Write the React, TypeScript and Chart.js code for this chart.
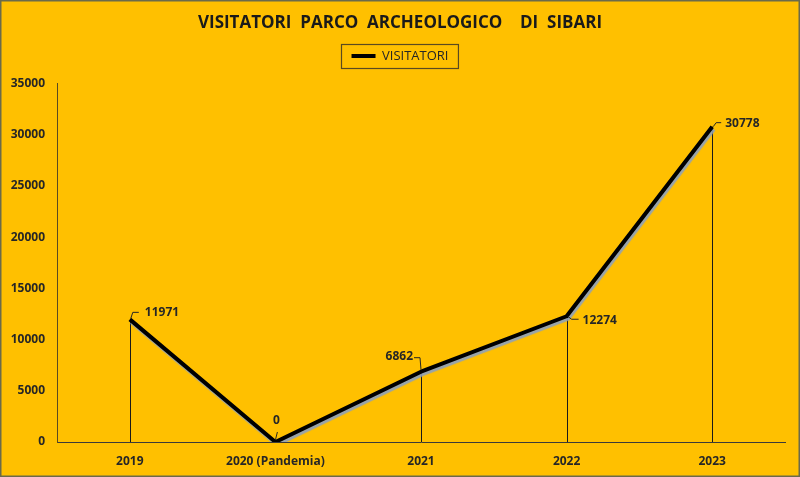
import React, { useEffect, useRef } from "react";
import { Chart, registerables } from "chart.js";

Chart.register(...registerables);

const categories = ["2019", "2020 (Pandemia)", "2021", "2022", "2023"];
const visitatori = [11971, 0, 6862, 12274, 30778];
const seriesName = "VISITATORI";
const chartTitle = "VISITATORI  PARCO  ARCHEOLOGICO    DI  SIBARI";

// label placement relative to each point
const labelPlacement: { dx: number; dy: number; align: CanvasTextAlign; leader: number[][] }[] = [
  { dx: 15, dy: -7, align: "left", leader: [[1, -1], [3, -7], [9, -7]] },
  { dx: 1, dy: -21, align: "center", leader: [[0, -2], [2, -10]] },
  { dx: -8, dy: -15, align: "right", leader: [[-7, -14], [-1, -14], [0, -2]] },
  { dx: 16, dy: 4, align: "left", leader: [[1, 0], [5, 3], [12, 3]] },
  { dx: 13, dy: -3, align: "left", leader: [[1, 0], [4, -4], [9, -4]] },
];

const FONT = "'Open Sans', 'Noto Sans', sans-serif";
const TEXT = "#262626";

const spacer = (position: string, size: number) => ({
  type: "linear" as const,
  position,
  display: true,
  min: 0,
  max: 1,
  grid: { display: false, drawTicks: false },
  border: { display: false },
  ticks: { display: false },
  afterFit(scale: any) {
    if (position === "top" || position === "bottom") scale.height = size;
    else scale.width = size;
  },
});

const App: React.FC = () => {
  const ref = useRef<HTMLCanvasElement | null>(null);
  useEffect(() => {
    document.body.style.margin = "0";
    const canvas = ref.current!;
    const bg = {
      id: "bg",
      beforeDraw(chart: any) {
        const { ctx, width, height } = chart;
        ctx.save();
        ctx.fillStyle = "#FFC000";
        ctx.fillRect(0, 0, width, height);
        ctx.restore();
      },
      afterDraw(chart: any) {
        const { ctx, width, height } = chart;
        ctx.save();
        ctx.strokeStyle = "#6b6b4a";
        ctx.lineWidth = 1.5;
        ctx.strokeRect(0.75, 0.75, width - 1.5, height - 1.5);
        const lg = chart.legend;
        if (lg && lg.legendHitBoxes && lg.legendHitBoxes.length) {
          const hb = lg.legendHitBoxes[0];
          const cy = hb.top + hb.height / 2;
          ctx.strokeStyle = "#5a4a20";
          ctx.lineWidth = 1.2;
          ctx.strokeRect(Math.round(hb.left) - 10.5, Math.round(cy) - 11.5, hb.width + 20, 24);
        }
        ctx.restore();
      },
    };
    const dropLines = {
      id: "dropLines",
      beforeDatasetsDraw(chart: any) {
        const { ctx } = chart;
        const meta = chart.getDatasetMeta(0);
        const yBase = chart.scales.y.getPixelForValue(0);
        ctx.save();
        ctx.strokeStyle = "#1a1a1a";
        ctx.lineWidth = 1;
        meta.data.forEach((p: any, i: number) => {
          if (visitatori[i] === 0) return;
          const x = Math.round(p.x) + 0.5;
          ctx.beginPath();
          ctx.moveTo(x, p.y);
          ctx.lineTo(x, yBase);
          ctx.stroke();
        });
        ctx.restore();
      },
    };
    const shadow = {
      id: "shadow",
      beforeDatasetDraw(chart: any) {
        const { ctx } = chart;
        ctx.save();
        ctx.shadowColor = "rgba(140,160,190,0.9)";
        ctx.shadowOffsetX = 1.5;
        ctx.shadowOffsetY = 2.5;
        ctx.shadowBlur = 1;
      },
      afterDatasetDraw(chart: any) {
        chart.ctx.restore();
      },
    };
    const dataLabels = {
      id: "dataLabels",
      afterDatasetsDraw(chart: any) {
        const { ctx } = chart;
        const meta = chart.getDatasetMeta(0);
        ctx.save();
        ctx.font = `bold 12px ${FONT}`;
        ctx.fillStyle = TEXT;
        ctx.strokeStyle = "#262626";
        ctx.lineWidth = 1;
        ctx.textBaseline = "middle";
        meta.data.forEach((p: any, i: number) => {
          const lp = labelPlacement[i];
          ctx.beginPath();
          lp.leader.forEach(([dx, dy], k) => {
            if (k === 0) ctx.moveTo(p.x + dx, p.y + dy);
            else ctx.lineTo(p.x + dx, p.y + dy);
          });
          ctx.stroke();
          ctx.textAlign = lp.align;
          ctx.fillText(String(visitatori[i]), p.x + lp.dx, p.y + lp.dy);
        });
        ctx.restore();
      },
    };
    const chart = new Chart(canvas, {
      type: "line",
      data: {
        labels: categories,
        datasets: [
          {
            label: seriesName,
            data: visitatori,
            borderColor: "#000000",
            backgroundColor: "#000000",
            borderWidth: 4,
            pointRadius: 0,
            tension: 0,
            borderJoinStyle: "round" as any,
          },
        ],
      },
      options: {
        animation: false,
        responsive: false,
        layout: { padding: { left: 0, right: 0, top: 13, bottom: 0 } },
        plugins: {
          title: {
            display: true,
            text: chartTitle,
            color: "#1a1a1a",
            font: { family: FONT, size: 17, weight: "bold" },
            padding: { top: 0, bottom: 4 },
          },
          legend: {
            display: true,
            labels: {
              usePointStyle: true,
              pointStyle: "line",
              pointStyleWidth: 24,
              boxHeight: 13,
              color: "#262626",
              font: { family: FONT, size: 13 },
              padding: 12,
            },
          },
          tooltip: { enabled: false },
        },
        scales: {
          x: {
            offset: true,
            grid: { display: false, drawTicks: false },
            border: { display: true, color: "#3a3a3a", width: 1 },
            ticks: {
              color: TEXT,
              font: { family: FONT, size: 12, weight: "bold" },
              padding: 12,
              maxRotation: 0,
            },
            afterFit(scale: any) {
              scale.height = 35;
            },
          },
          y: {
            min: 0,
            max: 35000,
            grid: { display: false, drawTicks: false },
            border: { display: true, color: "#5a4a20", width: 1 },
            ticks: {
              stepSize: 5000,
              color: TEXT,
              font: { family: FONT, size: 12, weight: "bold" },
              padding: 12,
              callback: (v: any) => String(v),
            },
            afterFit(scale: any) {
              scale.width = 57;
            },
          },
          padTop: spacer("top", 11) as any,
          padRight: spacer("right", 15) as any,
        },
      },
      plugins: [bg, dropLines, shadow, dataLabels],
    });
    return () => chart.destroy();
  }, []);
  return <canvas ref={ref} width={800} height={477} style={{ display: "block", width: 800, height: 477 }} />;
};

export default App;
